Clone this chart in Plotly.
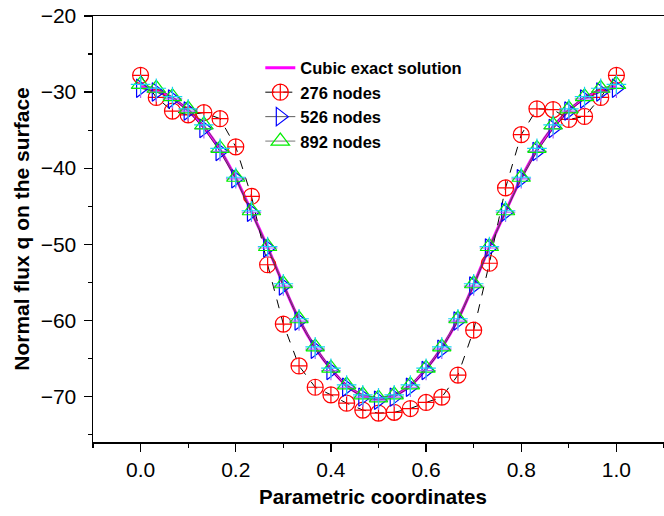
import plotly.graph_objects as go

# parametric coordinate of every node shown
x_nodes = [0.000, 0.033, 0.067, 0.100, 0.133, 0.167, 0.200, 0.233, 0.267, 0.300,
           0.333, 0.367, 0.400, 0.433, 0.467, 0.500, 0.533, 0.567, 0.600, 0.633,
           0.667, 0.700, 0.733, 0.767, 0.800, 0.833, 0.867, 0.900, 0.933, 0.967, 1.000]

exact = [-29.3, -29.8, -30.8, -32.4, -34.6, -37.6, -41.3, -45.7, -50.4, -55.3,
         -59.9, -63.6, -66.4, -68.6, -69.9, -70.3, -69.9, -68.6, -66.4, -63.6,
         -59.9, -55.3, -50.4, -45.7, -41.3, -37.6, -34.6, -32.4, -30.8, -29.8, -29.3]

n276 = [-27.8, -30.7, -32.5, -33.0, -32.7, -33.5, -37.2, -43.7, -52.7, -60.5,
        -66.0, -68.8, -69.8, -70.9, -71.8, -72.2, -72.1, -71.6, -70.8, -70.1,
        -67.2, -61.3, -52.5, -42.6, -35.6, -32.2, -32.3, -33.6, -33.2, -30.7, -27.8]

n526 = [-29.5, -30.0, -30.9, -32.5, -34.8, -37.8, -41.4, -45.8, -50.5, -55.5,
        -60.1, -63.8, -66.6, -68.8, -70.1, -70.5, -70.1, -68.8, -66.6, -63.8,
        -60.1, -55.5, -50.5, -45.8, -41.4, -37.8, -34.8, -32.5, -30.9, -30.0, -29.5]

n892 = [-29.0, -29.5, -30.6, -32.2, -34.3, -37.4, -41.2, -45.6, -50.3, -55.2,
        -59.8, -63.5, -66.3, -68.5, -69.8, -70.2, -69.8, -68.5, -66.3, -63.5,
        -59.8, -55.2, -50.3, -45.6, -41.2, -37.4, -34.3, -32.2, -30.6, -29.5, -29.0]

x_ticks = [0.0, 0.2, 0.4, 0.6, 0.8, 1.0]
x_tick_text = ["0.0", "0.2", "0.4", "0.6", "0.8", "1.0"]
y_ticks = [-70, -60, -50, -40, -30, -20]
y_tick_text = ["\u221270", "\u221260", "\u221250", "\u221240", "\u221230", "\u221220"]

FONT = "Arial, Liberation Sans, sans-serif"

fig = go.Figure()

fig.add_trace(go.Scatter(
    x=x_nodes, y=exact, mode="lines", name="Cubic exact solution",
    line=dict(color="#ff00ff", width=3, shape="spline"), legendgroup="a"))

fig.add_trace(go.Scatter(
    x=x_nodes, y=n276, mode="lines+markers", name="276 nodes", legendgroup="b",
    line=dict(color="black", width=1, dash="dash"),
    marker=dict(symbol="circle-cross-open", size=16, color="#ff0000",
                line=dict(width=1.2, color="#ff0000"))))

fig.add_trace(go.Scatter(
    x=x_nodes, y=n526, mode="lines+markers", name="526 nodes", legendgroup="c",
    line=dict(color="#333333", width=0.8),
    marker=dict(symbol="triangle-right-open", size=16, color="#0000ff",
                line=dict(width=1.2, color="#0000ff"))))
fig.add_trace(go.Scatter(
    x=x_nodes, y=n526, mode="markers", showlegend=False, hoverinfo="skip",
    marker=dict(symbol="cross-thin-open", size=14,
                line=dict(width=1.2, color="#0000ff"))))

fig.add_trace(go.Scatter(
    x=x_nodes, y=n892, mode="lines+markers", name="892 nodes", legendgroup="d",
    line=dict(color="#555555", width=0.8),
    marker=dict(symbol="triangle-up-open", size=16, color="#00ee00",
                line=dict(width=1.2, color="#00ee00"))))
fig.add_trace(go.Scatter(
    x=x_nodes, y=n892, mode="markers", showlegend=False, hoverinfo="skip",
    marker=dict(symbol="cross-thin-open", size=14,
                line=dict(width=1.2, color="#00ee00"))))

fig.update_layout(
    width=664, height=516,
    margin=dict(l=93, r=0, t=16, b=74, autoexpand=False),
    paper_bgcolor="white", plot_bgcolor="white",
    font=dict(family=FONT, color="black"),
    showlegend=True,
    legend=dict(x=0.293, y=0.919, xanchor="left", yanchor="top",
                bgcolor="rgba(0,0,0,0)", tracegroupgap=0,
                font=dict(family=FONT, size=16.5, color="black", weight="bold")),
    annotations=[
        dict(text="Parametric coordinates", xref="paper", yref="paper",
             x=0.4895, y=-0.129, xanchor="center", yanchor="middle",
             showarrow=False, font=dict(size=20.5, family=FONT, weight="bold")),
        dict(text="Normal flux q on the surface", xref="paper", yref="paper",
             x=-0.1243, y=0.5006, xanchor="center", yanchor="middle",
             textangle=-90, showarrow=False,
             font=dict(size=21, family=FONT, weight="bold")),
    ],
)

fig.update_xaxes(
    range=[-0.1, 1.1], tickvals=x_ticks, ticktext=x_tick_text, automargin=False,
    showgrid=False, zeroline=False, showline=True, linecolor="black",
    linewidth=1.5, mirror=True, ticks="outside", ticklen=8, tickwidth=1.2,
    tickcolor="black", tickfont=dict(size=21, family=FONT),
    minor=dict(ticks="outside", ticklen=4, tickwidth=1.2, tickcolor="black",
               dtick=0.1, showgrid=False),
)

fig.update_yaxes(
    range=[-76, -20], tickvals=y_ticks, ticktext=y_tick_text, automargin=False,
    showgrid=False, zeroline=False, showline=True, linecolor="black",
    linewidth=1.5, mirror=False, ticks="outside", ticklen=8, tickwidth=1.2,
    tickcolor="black", tickfont=dict(size=21, family=FONT),
    ticklabeloverflow="allow", ticklabelstandoff=3,
    minor=dict(ticks="outside", ticklen=4, tickwidth=1.2, tickcolor="black",
               dtick=5, showgrid=False),
)

fig.write_html("out.html",
               config={"displayModeBar": False, "staticPlot": True},
               post_script="document.body.style.margin='0';document.body.style.overflow='hidden';")
